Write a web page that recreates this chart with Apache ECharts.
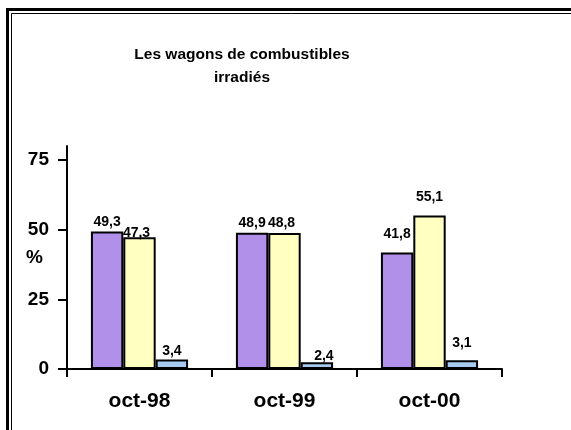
<!DOCTYPE html>
<html>
<head>
<meta charset="utf-8">
<title>Les wagons de combustibles irradiés</title>
<script src="https://cdn.jsdelivr.net/npm/echarts@6/dist/echarts.min.js"></script>
<style>
  html, body { margin: 0; padding: 0; background: #ffffff; }
  #chart { width: 571px; height: 430px; }
</style>
</head>
<body>
<div id="chart"></div>
<script>
// Categories (months) and the three series of percentages
const categories = ['oct-98', 'oct-99', 'oct-00'];
const seriesA = [49.3, 48.9, 41.8];
const seriesB = [47.3, 48.8, 55.1];
const seriesC = [3.4, 2.4, 3.1];
const yTicks = [0, 25, 50, 75];

// Label placement tweaks: [dx, distance above bar] per series and category
const labelNudgeA = [[0, 2], [0, 3], [0, 11]];
const labelNudgeB = [[-3, -3], [-3, 3], [0, 11]];
const labelNudgeC = [[0, 1], [7, -1], [0, 10]];

const FONT = 'Liberation Sans, Arial, Helvetica, sans-serif';
const fmt = v => String(v).replace('.', ',');

function makeSeries(values, nudges, color) {
  return {
    type: 'bar',
    barGap: '0%',
    barCategoryGap: '33%',
    itemStyle: { color: color, borderColor: '#000000', borderWidth: 2 },
    label: {
      show: true,
      position: 'top',
      color: '#000000',
      fontFamily: FONT,
      fontWeight: 'bold',
      fontSize: 14,
      formatter: p => fmt(p.value)
    },
    data: values.map((v, i) => ({
      value: v,
      label: { offset: [nudges[i][0], 0], distance: nudges[i][1] }
    }))
  };
}

const chart = echarts.init(document.getElementById('chart'), null, { renderer: 'canvas' });

chart.setOption({
  backgroundColor: '#ffffff',
  animation: false,
  title: {
    text: 'Les wagons de combustibles\nirradiés',
    left: 237,
    top: 38,
    textAlign: 'center',
    textStyle: {
      fontFamily: FONT,
      fontWeight: 'bold',
      fontSize: 15.5,
      lineHeight: 23,
      color: '#000000'
    }
  },
  grid: { left: 67, right: 69, top: 146, bottom: 61, containLabel: false },
  xAxis: {
    type: 'category',
    data: categories,
    axisLine: { lineStyle: { color: '#000000', width: 2 } },
    axisTick: { show: true, length: 8, lineStyle: { color: '#000000', width: 2 } },
    axisLabel: {
      margin: 22,
      color: '#000000',
      fontFamily: FONT,
      fontWeight: 'bold',
      fontSize: 21
    },
    splitLine: { show: false }
  },
  yAxis: {
    type: 'value',
    min: 0,
    max: 80,
    name: '%',
    nameLocation: 'middle',
    nameRotate: 0,
    nameGap: 24,
    nameMoveOverlap: false,
    nameTextStyle: { color: '#000000', fontFamily: FONT, fontWeight: 'bold', fontSize: 19 },
    axisLine: { show: true, lineStyle: { color: '#000000', width: 2 } },
    axisTick: { show: true, length: 9, customValues: yTicks, lineStyle: { color: '#000000', width: 2 } },
    axisLabel: {
      margin: 18,
      customValues: yTicks,
      color: '#000000',
      fontFamily: FONT,
      fontWeight: 'bold',
      fontSize: 19
    },
    splitLine: { show: false }
  },
  series: [
    makeSeries(seriesA, labelNudgeA, '#b190ea'),
    makeSeries(seriesB, labelNudgeB, '#ffffc2'),
    makeSeries(seriesC, labelNudgeC, '#a7caf0')
  ],
  graphic: [
    // double frame around the chart area (open to the right and bottom)
    {
      type: 'rect',
      shape: { x: 7.5, y: 9.5, width: 700, height: 600 },
      style: { fill: null, stroke: '#000000', lineWidth: 3 },
      silent: true
    },
    {
      type: 'rect',
      shape: { x: 11.5, y: 13.5, width: 700, height: 600 },
      style: { fill: null, stroke: '#000000', lineWidth: 1 },
      silent: true
    }
  ]
});
</script>
</body>
</html>
